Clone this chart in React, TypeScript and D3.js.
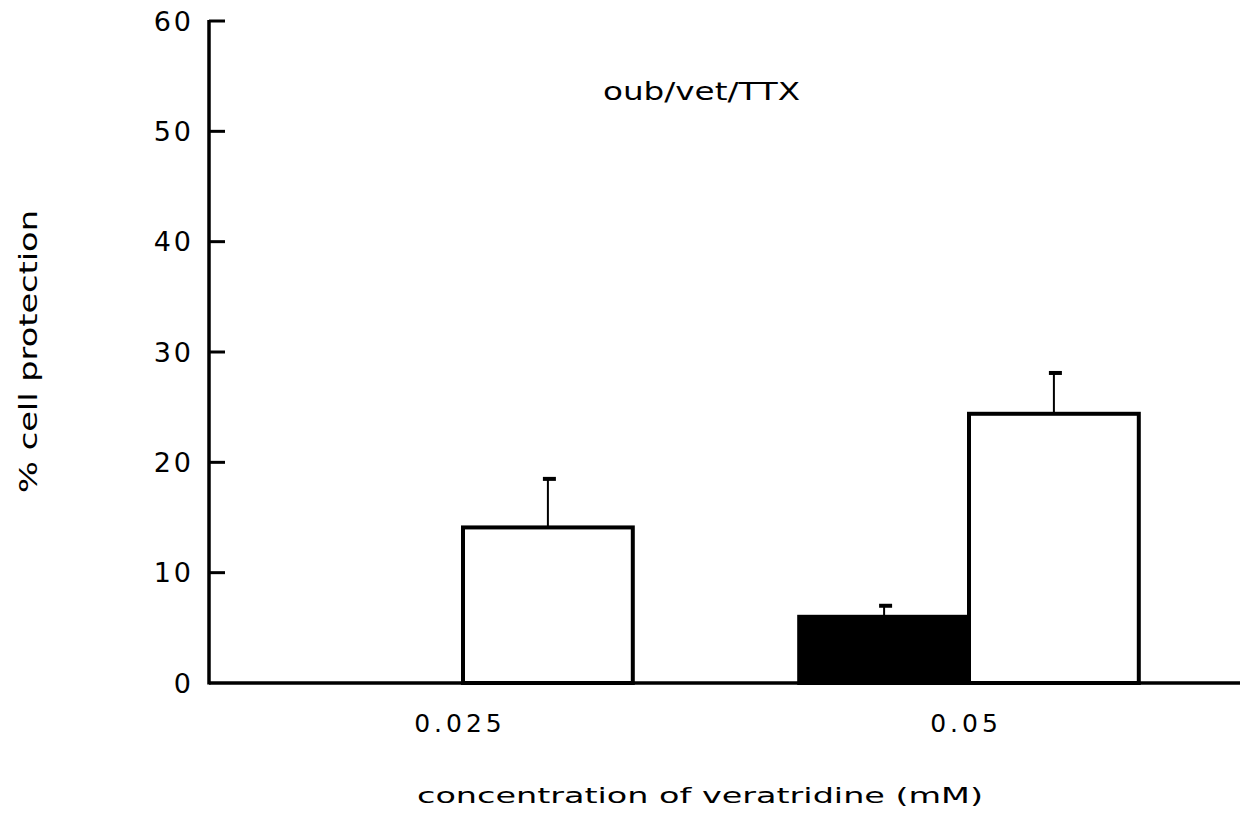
import { useEffect, useRef } from 'react';
import * as d3 from 'd3';

// concentrations of veratridine (mM)
const categories = ['0.025', '0.05'];
const seriesKeys = ['filled', 'open'];
// % cell protection (null = no bar)
const filledValues = [null, 6.0];
const filledErrors = [null, 1.0];
const openValues = [14.1, 24.4];
const openErrors = [4.4, 3.7];
const yTicks = [0, 10, 20, 30, 40, 50, 60];

const App = () => {
  const svgRef = useRef<SVGSVGElement | null>(null);
  const width = 1242;
  const height = 824;

  useEffect(() => {
    const svg = d3.select(svgRef.current);
    svg.selectAll('*').remove();

    const font = '"DejaVu Sans", "Liberation Sans", sans-serif';
    const axisX = 209;
    const axisY = 683;

    const x0 = d3.scaleBand().domain(categories).range([210, 1222]).padding(0);
    const x1 = d3
      .scaleBand()
      .domain(seriesKeys)
      .range([0, x0.bandwidth()])
      .paddingInner(0)
      .paddingOuter(0.49);
    const y = d3.scaleLinear().domain([0, 60]).range([axisY, 21]);

    const rows = categories.map((c, i) => ({
      cat: c,
      bars: [
        { key: 'filled', value: filledValues[i], err: filledErrors[i] },
        { key: 'open', value: openValues[i], err: openErrors[i] },
      ].filter(b => b.value !== null),
    }));

    const g = svg.append('g');

    // bars
    rows.forEach(r => {
      r.bars.forEach(b => {
        const bx = (x0(r.cat) as number) + (x1(b.key) as number);
        const bw = x1.bandwidth();
        const v = b.value as number;
        g.append('rect')
          .attr('x', bx)
          .attr('y', y(v))
          .attr('width', bw)
          .attr('height', axisY - y(v))
          .attr('fill', b.key === 'filled' ? '#000' : '#fff')
          .attr('stroke', '#000')
          .attr('stroke-width', 4);

        // error bar (upper only)
        if (b.err !== null) {
          const cx = bx + bw / 2;
          const top = y(v + (b.err as number));
          g.append('line')
            .attr('x1', cx).attr('x2', cx)
            .attr('y1', y(v)).attr('y2', top)
            .attr('stroke', '#000')
            .attr('stroke-width', 2);
          g.append('line')
            .attr('x1', cx - 5).attr('x2', cx + 8)
            .attr('y1', top).attr('y2', top)
            .attr('stroke', '#000')
            .attr('stroke-width', 4);
        }
      });
    });

    // y axis
    g.append('line')
      .attr('x1', axisX).attr('x2', axisX)
      .attr('y1', y(60) - 1).attr('y2', axisY + 1.5)
      .attr('stroke', '#000')
      .attr('stroke-width', 3.5);

    g.selectAll('.ytick')
      .data(yTicks.filter(t => t > 0))
      .enter()
      .append('line')
      .attr('x1', axisX)
      .attr('x2', axisX + 16)
      .attr('y1', d => y(d))
      .attr('y2', d => y(d))
      .attr('stroke', '#000')
      .attr('stroke-width', 3);

    g.selectAll('.ylabel')
      .data(yTicks)
      .enter()
      .append('text')
      .attr('x', 194)
      .attr('y', d => y(d))
      .attr('dy', '0.36em')
      .attr('text-anchor', 'end')
      .style('font-family', font)
      .style('font-size', '27px')
      .style('letter-spacing', '3px')
      .style('fill', '#000')
      .text(d => d);

    // x axis
    g.append('line')
      .attr('x1', axisX).attr('x2', 1240)
      .attr('y1', axisY).attr('y2', axisY)
      .attr('stroke', '#000')
      .attr('stroke-width', 3.5);

    g.selectAll('.xlabel')
      .data(categories)
      .enter()
      .append('text')
      .attr('x', d => (x0(d) as number) + x0.bandwidth() / 2 - 3)
      .attr('y', 732)
      .attr('text-anchor', 'middle')
      .style('font-family', font)
      .style('font-size', '25px')
      .style('letter-spacing', '4px')
      .style('fill', '#000')
      .text(d => d);

    // axis titles
    g.append('text')
      .attr('x', 417)
      .attr('y', 803)
      .attr('textLength', 566)
      .attr('lengthAdjust', 'spacingAndGlyphs')
      .style('font-family', font)
      .style('font-size', '22px')
      .style('fill', '#000')
      .text('concentration of veratridine (mM)');

    g.append('text')
      .attr('transform', 'translate(37,493) rotate(-90)')
      .attr('x', 0)
      .attr('y', 0)
      .attr('textLength', 283)
      .attr('lengthAdjust', 'spacingAndGlyphs')
      .style('font-family', font)
      .style('font-size', '25px')
      .style('fill', '#000')
      .text('% cell protection');

    // panel label
    g.append('text')
      .attr('x', 603)
      .attr('y', 100)
      .attr('textLength', 197)
      .attr('lengthAdjust', 'spacingAndGlyphs')
      .style('font-family', font)
      .style('font-size', '24px')
      .style('fill', '#000')
      .text('oub/vet/TTX');
  }, []);

  return (
    <svg
      ref={svgRef}
      width={width}
      height={height}
      style={{ position: 'absolute', left: 0, top: 0, background: '#fff' }}
    />
  );
};

export default App;
